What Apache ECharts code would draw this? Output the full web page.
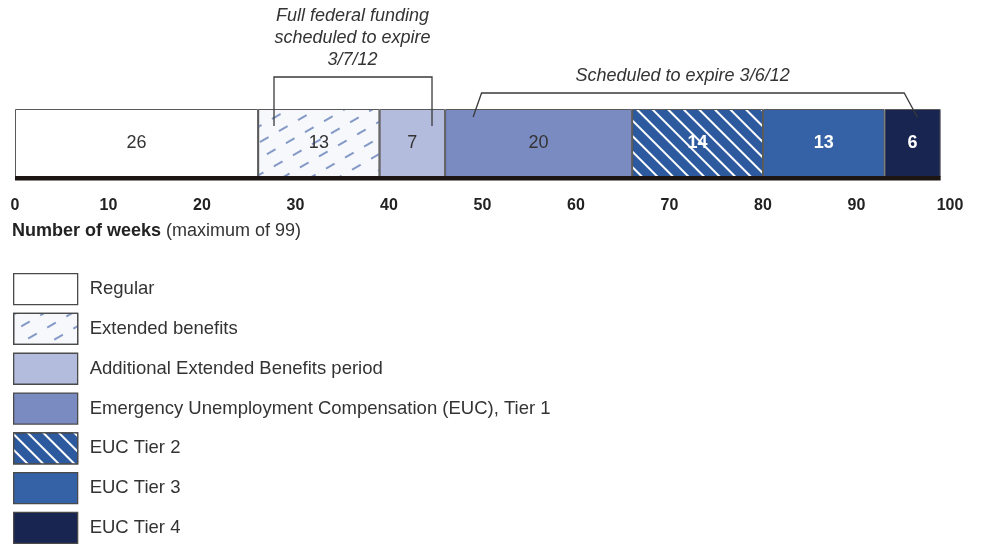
<!DOCTYPE html>
<html>
<head>
<meta charset="utf-8">
<script src="https://cdn.jsdelivr.net/npm/echarts@6/dist/echarts.min.js"></script>
<style>html,body{margin:0;padding:0;background:#fff}#c{width:983px;height:544px}</style>
</head>
<body>
<div id="c"></div>
<script>
const categories = ['Weeks'];
const seriesNames = ['Regular', 'Extended benefits', 'Additional Extended Benefits period',
  'Emergency Unemployment Compensation (EUC), Tier 1', 'EUC Tier 2', 'EUC Tier 3', 'EUC Tier 4'];
const weeks = [26, 13, 7, 20, 14, 13, 6];
const maxWeeks = 99;
const axisMin = 0, axisMax = 100, axisStep = 10;
const axisTitleBold = 'Number of weeks';
const axisTitleRest = '(maximum of 99)';
const annotationLines = [['Full federal funding', 'scheduled to expire', '3/7/12'], ['Scheduled to expire 3/6/12']];
const bracketTopFrom = [27.7, 49.9];
const bracketTopTo = [44.6, 95.1];
const bracketLegFrom = [27.7, 49.0];
const bracketLegTo = [44.6, 96.5];
const annotationCenter = [36.1, 71.4];

const FONT = '"Liberation Sans", Arial, Helvetica, sans-serif';
const fills = ['#ffffff', '#f6f8fc', '#b3bcdd', '#7a8bc2', '#2d5a9f', '#3562a6', '#172550'];
const decals = [
  null,
  { symbol: 'rect', symbolSize: 1, color: '#8499c6', dashArrayX: [10, 12], dashArrayY: [1.2, 12], rotation: -Math.PI / 6 },
  null, null,
  { symbol: 'rect', symbolSize: 1, color: '#ffffff', dashArrayX: [1, 0], dashArrayY: [2, 9], rotation: Math.PI / 4 },
  null, null
];
const labelColors = ['#333', '#333', '#333', '#333', '#fff', '#fff', '#fff'];
const labelWeights = ['normal', 'normal', 'normal', 'normal', 'bold', 'bold', 'bold'];

const chart = echarts.init(document.getElementById('c'));

const barSeries = seriesNames.map((name, i) => {
  const itemStyle = { color: fills[i], borderColor: '#5a5a5a', borderWidth: 1 };
  if (decals[i]) itemStyle.decal = decals[i];
  return {
    name, type: 'bar', stack: 'total', barWidth: 68,
    data: [weeks[i]],
    itemStyle,
    label: {
      show: true, position: 'inside', formatter: '{c}',
      fontFamily: FONT, fontSize: 18, color: labelColors[i], fontWeight: labelWeights[i]
    },
    emphasis: { disabled: true },
    z: 2
  };
});

const baselineSeries = {
  type: 'custom', name: 'baseline', z: 5, silent: true,
  encode: { x: [0, 2], y: 1 },
  data: [[0, 0, maxWeeks]],
  renderItem(params, api) {
    const p0 = api.coord([api.value(0), 0]);
    const p1 = api.coord([api.value(2), 0]);
    const h = api.size([0, 1])[1];
    const bottom = p0[1] + h / 2;
    return { type: 'rect', shape: { x: p0[0], y: bottom - 1, width: p1[0] - p0[0], height: 4.5 }, style: { fill: '#1d1414' } };
  }
};

const bracketData = bracketTopFrom.map((v, i) => [v, 0, bracketTopTo[i], bracketLegFrom[i], bracketLegTo[i], annotationCenter[i]]);
const topOffsets = [32, 16];
const legDepths = [17, 8];
const bracketSeries = {
  type: 'custom', name: 'brackets', z: 6, silent: true,
  encode: { x: [0, 2, 3, 4, 5], y: 1 },
  data: bracketData,
  renderItem(params, api) {
    const i = params.dataIndex;
    const h = api.size([0, 1])[1];
    const cy = api.coord([0, 0])[1];
    const barTop = cy - h / 2;
    const X = v => api.coord([v, 0])[0];
    const topY = barTop - topOffsets[i];
    const legY = barTop + legDepths[i];
    const xa = X(api.value(0)), xb = X(api.value(2)), la = X(api.value(3)), lb = X(api.value(4)), tx = X(api.value(5));
    return {
      type: 'group',
      children: [
        { type: 'polyline', shape: { points: [[la, legY], [xa, topY], [xb, topY], [lb, legY]] },
          style: { stroke: '#3a3a3a', lineWidth: 1.3, fill: null } },
        { type: 'text', style: { text: annotationLines[i].join('\n'), x: tx, y: topY - 6,
          align: 'center', verticalAlign: 'bottom', font: 'italic 18px ' + FONT, fill: '#333', lineHeight: 22 } }
      ]
    };
  }
};

chart.setOption({
  animation: false,
  textStyle: { fontFamily: FONT },
  title: {
    left: 12, top: 222, padding: 0,
    text: '{b|' + axisTitleBold + '} {n|' + axisTitleRest + '}',
    textStyle: { fontWeight: 'normal', rich: {
      b: { fontFamily: FONT, fontSize: 18, fontWeight: 'bold', color: '#222' },
      n: { fontFamily: FONT, fontSize: 18, fontWeight: 'normal', color: '#333' }
    } }
  },
  legend: {
    data: seriesNames, orient: 'vertical', left: 13, top: 273, height: 300, padding: 0,
    itemWidth: 64, itemHeight: 31, itemGap: 7.5, icon: 'rect',
    selectedMode: false,
    itemStyle: { borderColor: '#4a4a4a', borderWidth: 1.3 },
    textStyle: { fontFamily: FONT, fontSize: 18.5, color: '#333', padding: [0, 0, 0, 7] }
  },
  grid: { left: 15, right: 33, top: 109, height: 68 },
  xAxis: {
    type: 'value', min: axisMin, max: axisMax, interval: axisStep,
    axisLine: { show: false }, axisTick: { show: false }, splitLine: { show: false },
    axisLabel: { fontFamily: FONT, fontSize: 16, fontWeight: 'bold', color: '#222', margin: 21 }
  },
  yAxis: { type: 'category', data: categories, show: false },
  series: [...barSeries, baselineSeries, bracketSeries]
});
</script>
</body>
</html>
